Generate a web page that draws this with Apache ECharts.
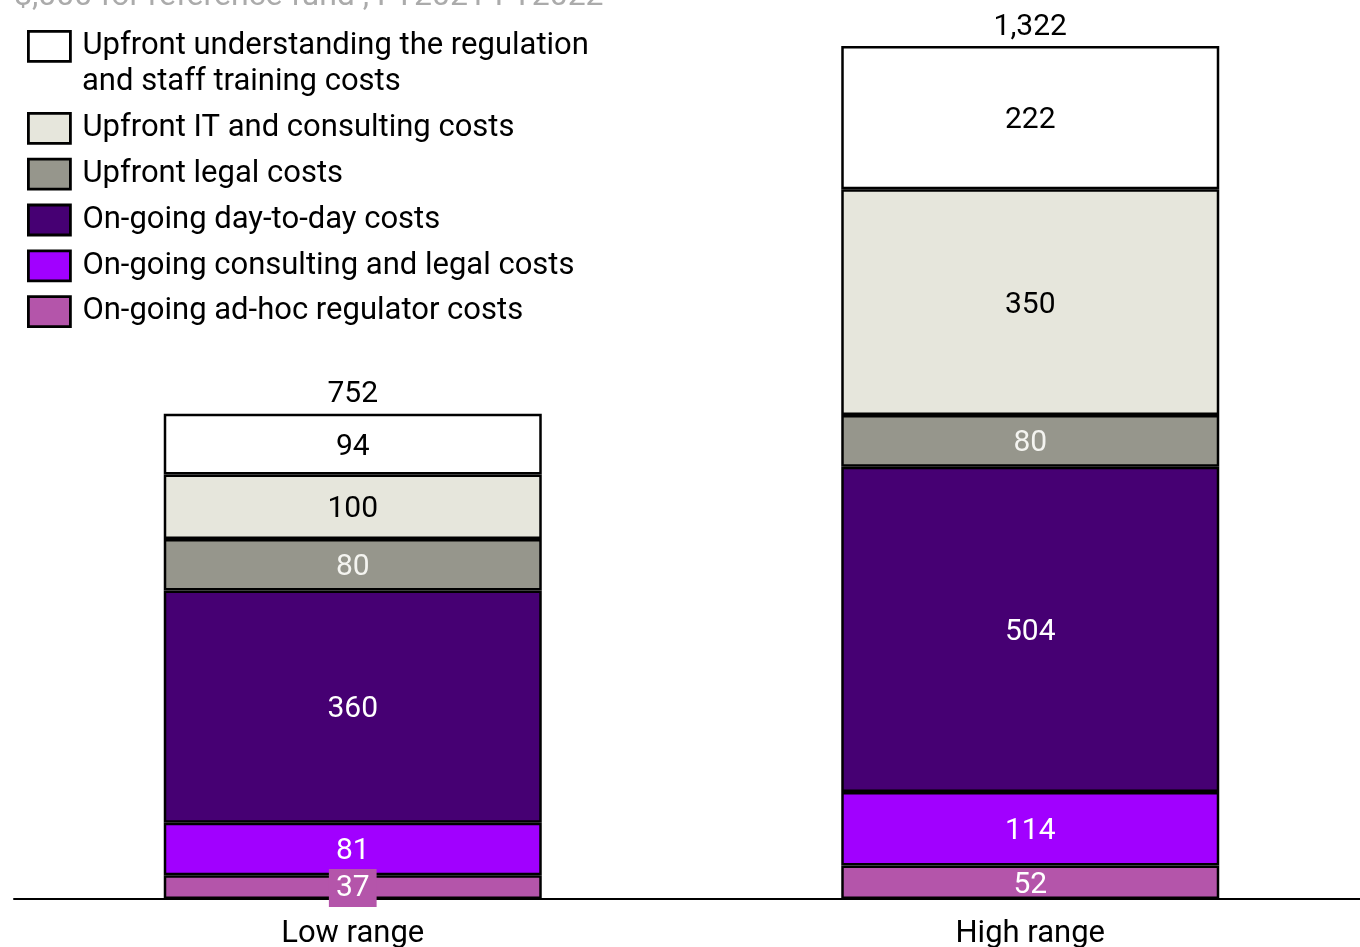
<!DOCTYPE html>
<html>
<head>
<meta charset="utf-8">
<script src="https://cdn.jsdelivr.net/npm/echarts@6/dist/echarts.min.js"></script>
<style>
  html, body { margin: 0; padding: 0; background: #fff; }
  #chart { width: 1360px; height: 947px; }
</style>
</head>
<body>
<div id="chart"></div>
<script>
const categories = ['Low range', 'High range']
const seriesNames = [
  'On-going ad-hoc regulator costs',
  'On-going consulting and legal costs',
  'On-going day-to-day costs',
  'Upfront legal costs',
  'Upfront IT and consulting costs',
  'Upfront understanding the regulation\nand staff training costs'
]
const adhocCosts = [37, 52]
const consultingLegalCosts = [81, 114]
const dayToDayCosts = [360, 504]
const legalCosts = [80, 80]
const itConsultingCosts = [100, 350]
const understandingCosts = [94, 222]
const totals = [752, 1322]

const seriesValues = [adhocCosts, consultingLegalCosts, dayToDayCosts, legalCosts, itConsultingCosts, understandingCosts]
const colors = ['#b455aa', '#a100ff', '#460073', '#96968c', '#e6e6dc', '#ffffff']
const labelColors = ['#fff', '#fff', '#fff', '#f4f4f0', '#000', '#000']

const font = 'Roboto, sans-serif'
const legendText = {
  color: '#000',
  fontFamily: font,
  fontSize: 31,
  rich: {
    t: { fontFamily: font, fontSize: 31, lineHeight: 30, color: '#000', padding: [0, 0, 0, 7] }
  }
}
const legendIcon = { borderColor: '#000', borderWidth: 2.8 }

const chart = echarts.init(document.getElementById('chart'))

const series = []
for (let i = 0; i < seriesNames.length; i++) {
  series.push({
    name: seriesNames[i],
    type: 'bar',
    stack: 'total',
    barWidth: 378,
    data: seriesValues[i].map((v, j) => {
      // the thin 37 segment gets a label box that covers the divider
      if (i === 0 && j === 0) {
        return { value: v, label: { backgroundColor: colors[0], padding: [4, 7], offset: [0, 1] } }
      }
      return v
    }),
    itemStyle: {
      color: colors[i],
      borderColor: '#000',
      borderWidth: 2.5
    },
    label: {
      show: true,
      position: 'inside',
      offset: [0, 3],
      color: labelColors[i],
      fontFamily: font,
      fontSize: 30
    },
    animation: false
  })
}

// zero-height bar on top of each stack to carry the total label
series.push({
  name: 'total',
  type: 'bar',
  stack: 'total',
  barWidth: 378,
  data: totals.map(() => 0),
  itemStyle: { color: 'transparent', borderWidth: 0 },
  label: {
    show: true,
    position: 'top',
    distance: 4,
    color: '#000',
    fontFamily: font,
    fontSize: 30,
    formatter: p => totals[p.dataIndex].toLocaleString('en-US')
  },
  animation: false
})

const option = {
  backgroundColor: '#fff',
  title: {
    text: '$,000 for reference fund , FY2021-FY2022',
    left: 9,
    top: -24,
    textStyle: {
      color: '#ababab',
      fontFamily: font,
      fontSize: 32,
      fontWeight: 'normal'
    }
  },
  legend: [
    {
      data: [seriesNames[5]],
      formatter: name => '{t|' + name.split('\n')[0] + '}',
      orient: 'vertical',
      left: 27,
      top: 30,
      padding: 0,
      itemWidth: 42,
      itemHeight: 30,
      icon: 'rect',
      itemStyle: legendIcon,
      selectedMode: false,
      textStyle: legendText
    },
    {
      data: seriesNames.slice(0, 5).reverse(),
      formatter: name => '{t|' + name + '}',
      orient: 'vertical',
      left: 27,
      top: 112,
      padding: 0,
      itemGap: 13,
      itemWidth: 42,
      itemHeight: 30,
      icon: 'rect',
      itemStyle: legendIcon,
      selectedMode: false,
      textStyle: legendText
    }
  ],
  graphic: [
    {
      type: 'text',
      left: 82,
      top: 67,
      style: {
        text: seriesNames[5].split('\n')[1],
        fill: '#000',
        font: '31px Roboto, sans-serif'
      }
    }
  ],
  grid: {
    left: 14,
    width: 1355,
    top: 46,
    bottom: 48,
    outerBoundsMode: 'none'
  },
  xAxis: {
    type: 'category',
    data: categories,
    axisTick: { show: false },
    axisLine: { lineStyle: { color: '#000', width: 2 } },
    axisLabel: {
      color: '#000',
      fontFamily: font,
      fontSize: 31,
      margin: 20
    }
  },
  yAxis: {
    type: 'value',
    min: 0,
    max: Math.max(...totals),
    show: false,
    splitLine: { show: false }
  },
  series: series
}

chart.setOption(option)
</script>
</body>
</html>
